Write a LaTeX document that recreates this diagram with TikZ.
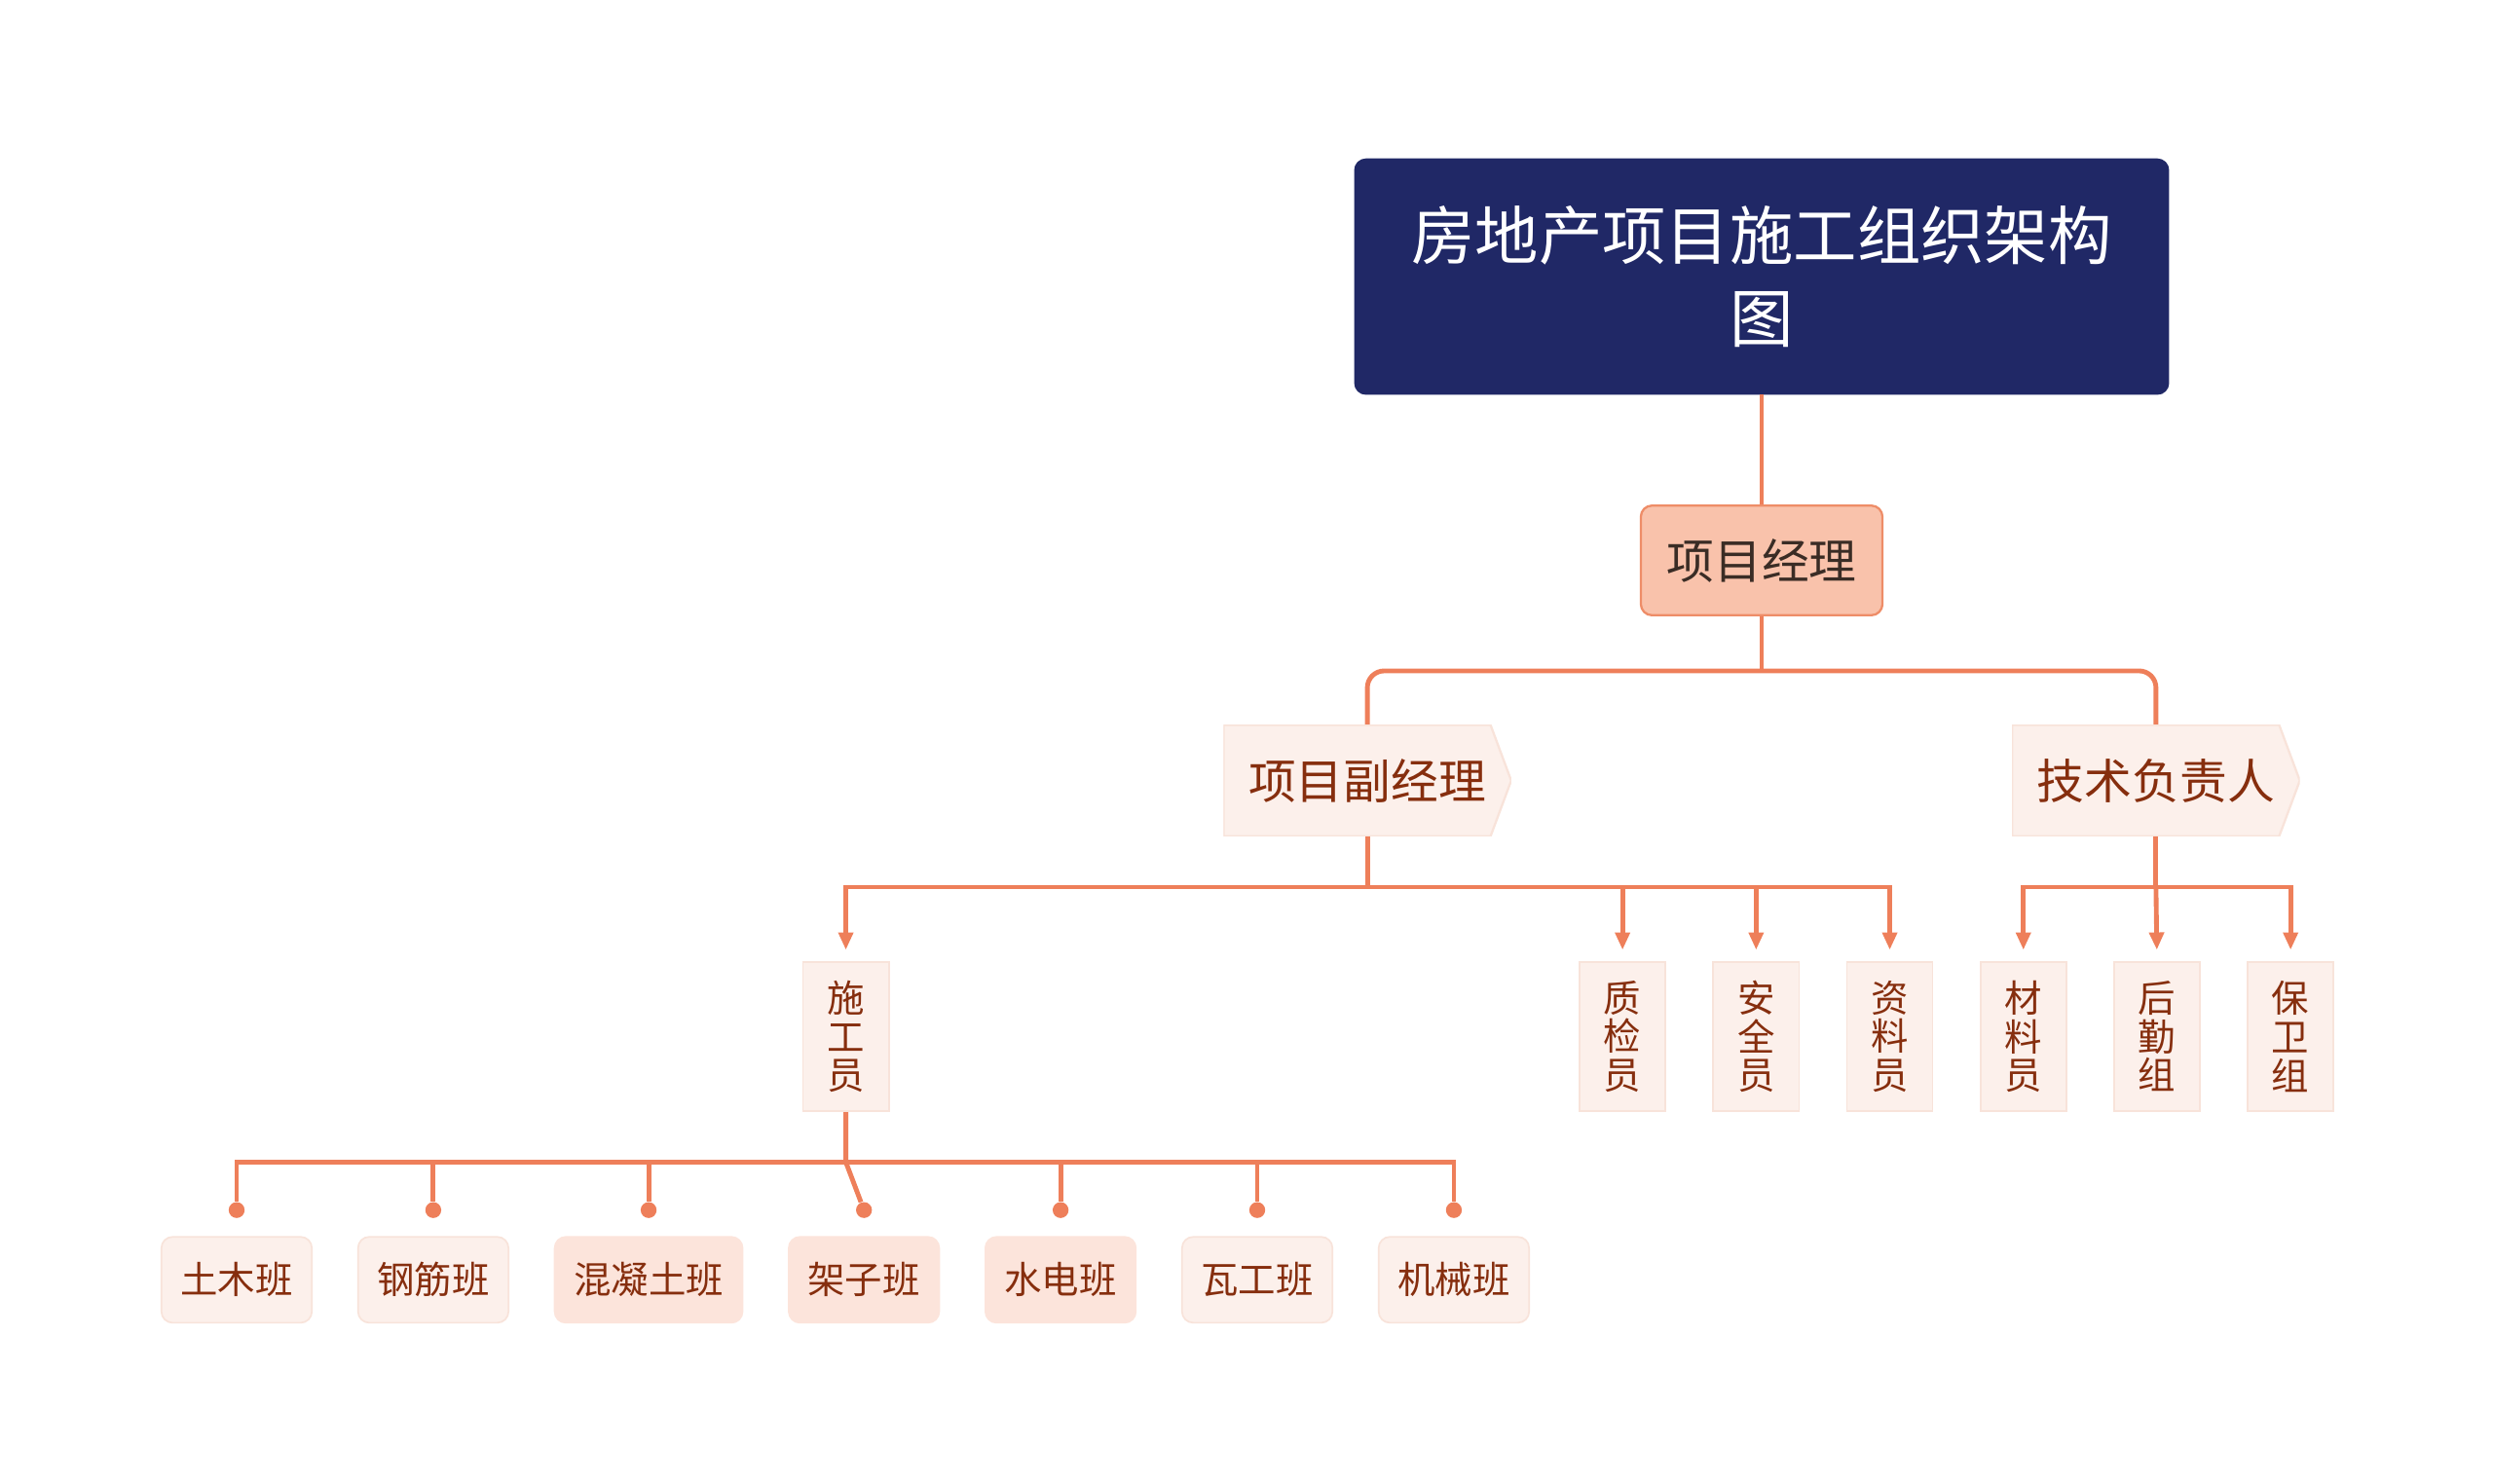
\documentclass[tikz,border=0pt]{standalone}
\usepackage{fontspec}
\setmainfont{Noto Sans CJK SC}
\usepackage{tikz}
\usetikzlibrary{arrows.meta,positioning,calc}
\definecolor{Navy}{HTML}{202866}
\definecolor{Coral}{HTML}{EE7F5A}
\definecolor{Salmon}{HTML}{F9C2AB}
\definecolor{SalmonLine}{HTML}{EE8D68}
\definecolor{Blush}{HTML}{FCF0EB}
\definecolor{BlushLine}{HTML}{F8E3DA}
\definecolor{Rose}{HTML}{FCE4DB}
\definecolor{Brick}{HTML}{862E0E}
\definecolor{Ink}{HTML}{3A2C25}
\tikzset{
  titlebox/.style={fill=Navy,draw=Navy,rounded corners=4pt,text=white,minimum width=10.24cm,minimum height=2.96cm,align=center,font=\fontsize{22.8}{29.6}\selectfont},
  pmbox/.style={fill=Salmon,draw=SalmonLine,line width=.8pt,rounded corners=4pt,text=Ink,minimum width=3.04cm,minimum height=1.38cm,font=\fontsize{17}{20}\selectfont},
  leadbox/.style={fill=white,minimum width=3.62cm,minimum height=1.4cm,text=Brick,font=\fontsize{17}{20}\selectfont,
    path picture={\draw[fill=Blush,draw=BlushLine,line width=.8pt]
      (path picture bounding box.north west) -- ([xshift=-.26cm]path picture bounding box.north east)
      -- (path picture bounding box.east) -- ([xshift=-.26cm]path picture bounding box.south east)
      -- (path picture bounding box.south west) -- cycle;}},
  staffbox/.style={fill=Blush,draw=BlushLine,line width=.6pt,text=Brick,minimum width=1.08cm,minimum height=1.88cm,align=center,font=\fontsize{13.4}{13.8}\selectfont},
  teambox/.style={fill=Blush,draw=BlushLine,line width=.6pt,rounded corners=4pt,text=Brick,inner xsep=.24cm,minimum height=1.08cm,font=\fontsize{13.4}{16}\selectfont},
  teamhot/.style={teambox,fill=Rose,draw=Rose},
  link/.style={draw=Coral,line width=1.7pt},
  feed/.style={link,-{Triangle[length=2.2mm,width=1.8mm]},shorten >=1.4mm},
  knob/.style={circle,fill=Coral,inner sep=0pt,minimum size=2mm}
}
\begin{document}
\begin{tikzpicture}[x=.02cm,y=-.02cm,node distance=.58cm]
  \useasboundingbox (0,0) rectangle (1568,933);
  \node[titlebox] (title) at (1108,174) {房地产项目施工组织架构\\图};
  \node[pmbox] (pm) at (1108,352.5) {项目经理};
  \node[leadbox] (vice) at (860,491) {项目副经理};
  \node[leadbox] (tech) at (1356,491) {技术负责人};

  \node[staffbox] (sgy) at (532,652) {施\\工\\员};
  \node[staffbox] (zjy) at (1020.5,652) {质\\检\\员};
  \node[staffbox,right=of zjy] (aqy) {安\\全\\员};
  \node[staffbox,right=of aqy] (zly) {资\\料\\员};
  \node[staffbox,right=of zly] (cly) {材\\料\\员};
  \node[staffbox,right=of cly] (hqz) {后\\勤\\组};
  \node[staffbox,right=of hqz] (bwz) {保\\卫\\组};

  \node[teambox,anchor=west] (tm) at (101,805) {土木班};
  \node[teambox,right=.56cm of tm] (gj) {钢筋班};
  \node[teamhot,right=.56cm of gj] (hnt) {混凝土班};
  \node[teamhot,right=.56cm of hnt] (jz) {架子班};
  \node[teamhot,right=.56cm of jz] (sd) {水电班};
  \node[teambox,right=.56cm of sd] (wg) {瓦工班};
  \node[teambox,right=.56cm of wg] (jx) {机械班};
  \foreach \t in {tm,gj,hnt,jz,sd,wg,jx}
    \node[knob,above=.22cm of \t] (\t k) {};

  \coordinate (b1) at (1108,422);
  \coordinate (b2) at (860,558);
  \coordinate (b2t) at (1356,558);
  \coordinate (b3) at (532,731);

  \draw[link] (title) -- (pm);
  \draw[link] (pm) -- (b1);
  \draw[link,rounded corners=6pt] (vice.north) |- (b1) -| (tech.north);

  \draw[link] (vice.south) -- (b2);
  \draw[feed] (b2) -| (sgy.north);
  \draw[feed] (b2) -| (zly.north);
  \foreach \n in {zjy,aqy}
    \draw[feed] (\n.north|-b2) -- (\n.north);
  \draw[link] (tech.south) -- (b2t);
  \draw[feed] (b2t) -| (cly.north);
  \draw[feed] (b2t) -| (bwz.north);
  \draw[feed] (b2t) -- (hqz.north);

  \draw[link] (sgy) -- (b3) -- (jzk);
  \draw[link] (b3) -| (tmk);
  \draw[link] (b3) -| (jxk);
  \foreach \t in {gj,hnt,sd,wg}
    \draw[link] (\t k|-b3) -- (\t k);
\end{tikzpicture}
\end{document}
